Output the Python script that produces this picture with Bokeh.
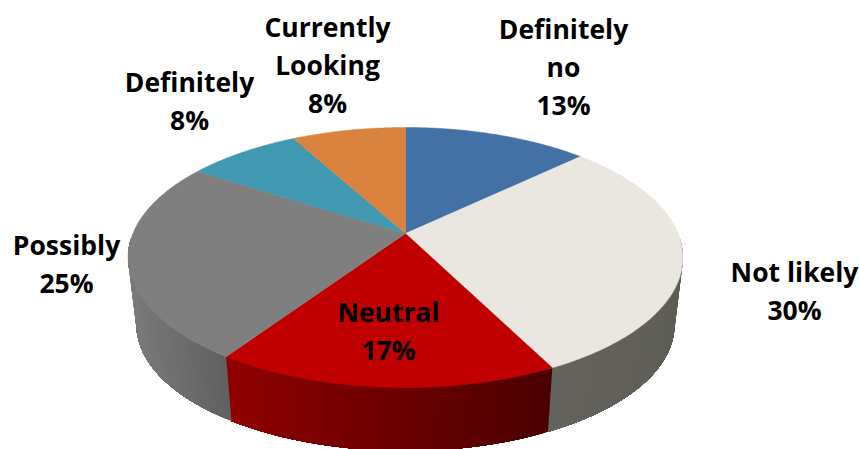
import numpy as np
from bokeh.core.properties import value
from bokeh.embed import file_html
from bokeh.models import ColumnDataSource
from bokeh.plotting import figure
from bokeh.resources import INLINE

# Survey answers, clockwise from twelve o'clock
categories = ["Definitely no", "Not likely", "Neutral", "Possibly", "Definitely", "Currently Looking"]
values = [13, 30, 17, 25, 8, 8]
label_lines = [["Definitely", "no"], ["Not likely"], ["Neutral"], ["Possibly"], ["Definitely"], ["Currently", "Looking"]]

top_colors = ["#4471a5", "#e9e7df", "#c00000", "#7f7f7f", "#4198b1", "#d9833e"]
# Wall shade at the left and right end of each visible wall piece
wall_shades = {1: ((0x64, 0x63, 0x5d), (0x5f, 0x5e, 0x58)),
               2: ((0x90, 0x00, 0x00), (0x4a, 0x00, 0x00)),
               3: ((0x7a, 0x7a, 0x7a), (0x60, 0x60, 0x60))}

# Centre line of each label and the vertical middle of its first line
label_anchor = [(563, 28), (794, 271), (388, 311), (66, 244), (189, 81), (327, 26)]
LINE_STEP = 38

# Perspective disc: apex position, scale factors, depth foreshortening
CX, CY, SX, SY, PERSP = 405.0, 233.0, 272.6, 125.6, 0.1846
WALL_DROP, WALL_SCALE = 68.0, 0.97


def project(theta):
    u, v = np.sin(theta), -np.cos(theta)
    w = 1 - PERSP * v
    return CX + SX * u / w, CY + SY * v / w


def project_bottom(theta):
    x, y = project(theta)
    return CX + WALL_SCALE * (x - CX), CY + WALL_DROP + WALL_SCALE * (y - CY)


total = sum(values)
edges = np.cumsum([0] + values) / total * 2 * np.pi

p = figure(width=859, height=449, x_range=(0, 859), y_range=(449, 0),
           output_backend="svg", toolbar_location=None, min_border=0,
           background_fill_color="white", border_fill_color="white", outline_line_color=None)
p.axis.visible = False
p.grid.visible = False

# Outer wall, built from narrow strips so its shading can vary along x.
# Each strip runs on to the far end of its piece and the next one paints over it,
# which leaves no hairline between neighbours.
xs, ys, colors = [], [], []
lim0, lim1 = np.radians(92), np.radians(268)
for i, (a0, a1) in enumerate(zip(edges[:-1], edges[1:])):
    if i not in wall_shades:
        continue
    a0, a1 = max(a0, lim0), min(a1, lim1)
    steps = np.linspace(a0, a1, max(int(np.degrees(a1 - a0)), 2) * 2 + 1)
    xa, xb = sorted((project(a0)[0], project(a1)[0]))
    c0, c1 = wall_shades[i]
    for t0, t1 in zip(steps[:-1], steps[1:]):
        arc = np.linspace(t0, a1, 60)
        tx, ty = project(arc)
        bx, by = project_bottom(arc)
        f = ((project(t0)[0] + project(t1)[0]) / 2 - xa) / (xb - xa)
        rgb = [int(round(c0[k] + (c1[k] - c0[k]) * f)) for k in range(3)]
        xs.append(list(tx) + list(bx[::-1]))
        ys.append(list(ty) + list(by[::-1]))
        colors.append("#%02x%02x%02x" % tuple(rgb))
p.patches(xs, ys, fill_color=colors, line_color=None)

# Top face of the disc
xs, ys = [], []
for a0, a1 in zip(edges[:-1], edges[1:]):
    t = np.linspace(a0, a1, 90)
    x, y = project(t)
    xs.append([CX] + list(x))
    ys.append([CY] + list(y))
p.patches(xs, ys, fill_color=top_colors, line_color=top_colors, line_width=0.5)

# Category and share labels
tx, ty, txt = [], [], []
for lines, v, (ax, ay) in zip(label_lines, values, label_anchor):
    for n, s in enumerate(lines + [f"{v}%"]):
        tx.append(ax)
        ty.append(ay + n * LINE_STEP)
        txt.append(s)
src = ColumnDataSource(dict(x=tx, y=ty, text=txt))
p.text("x", "y", text="text", source=src, text_align="center", text_baseline="middle",
       text_font=value("Open Sans"), text_font_style="bold", text_font_size="26.5px", text_color="#000000")

open("out.html", "w").write(file_html(p, INLINE))
